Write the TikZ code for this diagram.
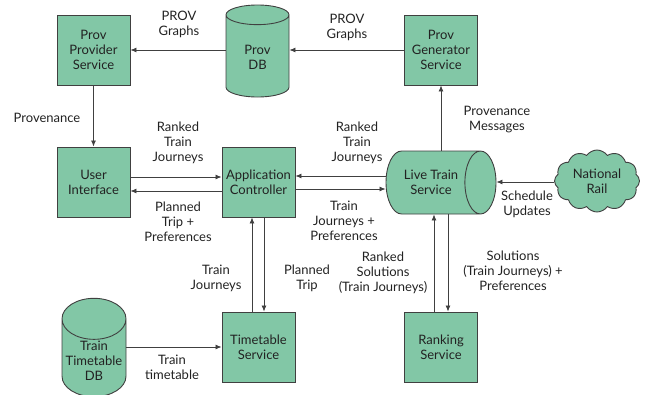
\documentclass[tikz,border=0pt]{standalone}
\usepackage{fontspec}
\setmainfont{Lato}
\usetikzlibrary{shapes.geometric,shapes.symbols,arrows.meta}
\definecolor{boxc}{HTML}{82C7A6}
\definecolor{linec}{HTML}{404040}
\definecolor{txtc}{HTML}{222222}
\begin{document}
\begin{tikzpicture}[x=1pt,y=-1pt,
  every node/.style={font=\fontsize{13}{15}\selectfont, text=txtc, align=center, inner sep=1pt},
  box/.style={rectangle, draw=linec, fill=boxc, line width=0.9pt, minimum width=73pt, minimum height=70pt},
  vdb/.style={cylinder, shape border rotate=90, draw=linec, fill=boxc, line width=0.9pt, aspect=0.7, anchor=shape center},
  hdb/.style={cylinder, draw=linec, fill=boxc, line width=0.9pt, aspect=1.17, minimum width=63pt, minimum height=110pt, anchor=shape center},
  cloudn/.style={cloud, cloud puffs=12, cloud puff arc=110, aspect=1.4, draw=linec, fill=boxc, line width=0.9pt, minimum width=85pt, minimum height=62pt},
  arr/.style={draw=linec, line width=0.8pt, -{Latex[length=6pt,width=5pt]}},
  lbl/.style={}]
\useasboundingbox (0,0) rectangle (655,394);
% nodes
\node[box] (pps) at (93.5,50) {Prov\\Provider\\Service};
\node[vdb, minimum width=63pt, minimum height=92pt] (pdb) at (257.5,51) {Prov\\DB};
\node[box] (pgs) at (441,50) {Prov\\Generator\\Service};
\node[box] (ui) at (93.5,182) {User\\Interface};
\node[box] (ac) at (258.5,182) {Application\\Controller};
\node[hdb] (lts) at (441,182.5) {Live Train\\Service};
\node[cloudn] (nr) at (597,181) {National\\Rail};
\node[box] (ts) at (258.5,347) {Timetable\\Service};
\node[vdb, minimum width=64pt, minimum height=87pt] (ttdb) at (94,347.5) {Train\\Timetable\\DB};
\node[box] (rs) at (441,347) {Ranking\\Service};
% connectors
\draw[arr] (pgs.west) -- (pdb.east |- pgs.west);
\draw[arr] (pdb.west |- pps.east) -- (pps.east);
\draw[arr] (pps) -- (ui);
\draw[arr] (ui.east |- 0,177) -- (ac.west |- 0,177);
\draw[arr] (ac.west |- 0,191) -- (ui.east |- 0,191);
\draw[arr] (lts.west |- 0,176) -- (ac.east |- 0,176);
\draw[arr] (ac.east |- 0,189) -- (lts.west |- 0,189);
\draw[arr] (lts.north -| pgs.south) -- (pgs.south);
\draw[arr] (nr.west |- 0,182) -- (lts.east |- 0,182);
\draw[arr] (ts.north -| 252,0) -- (ac.south -| 252,0);
\draw[arr] (ac.south -| 264,0) -- (ts.north -| 264,0);
\draw[arr] (ttdb.east |- ts.west) -- (ts.west);
\draw[arr] (rs.north -| 434,0) -- (lts.south -| 434,0);
\draw[arr] (lts.south -| 448,0) -- (rs.north -| 448,0);
% labels
\node[lbl] (l1) at (179,24) {PROV\\Graphs};
\node[lbl] (l2) at (347,27.5) {PROV\\Graphs};
\node[lbl] (l3) at (47,118) {Provenance};
\node[lbl] (l4) at (178,143) {Ranked\\Train\\Journeys};
\node[lbl] (l5) at (178,222) {Planned\\Trip +\\Preferences};
\node[lbl] (l6) at (357,143) {Ranked\\Train\\Journeys};
\node[lbl] (l7) at (344,221) {Train\\Journeys +\\Preferences};
\node[lbl] (l8) at (497,119.5) {Provenance\\Messages};
\node[lbl] (l9) at (527,204.5) {Schedule\\Updates};
\node[lbl] (l10) at (216,278) {Train\\Journeys};
\node[lbl] (l11) at (307,278) {Planned\\Trip};
\node[lbl] (l12) at (172,367) {Train\\timetable};
\node[lbl] (l13) at (383,273) {Ranked\\Solutions\\(Train Journeys)};
\node[lbl] (l14) at (513,271) {Solutions\\(Train Journeys) +\\Preferences};
\end{tikzpicture}
\end{document}
